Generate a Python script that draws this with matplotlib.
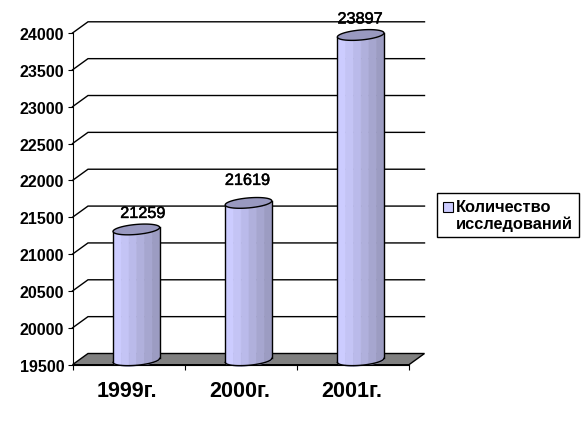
import numpy as np
import matplotlib
matplotlib.use('Agg')
import matplotlib.pyplot as plt
import matplotlib.patheffects as pe
from matplotlib.patches import Polygon, Rectangle

plt.rcParams['font.family'] = ['Liberation Sans', 'DejaVu Sans']

# Data
years = ['1999г.', '2000г.', '2001г.']
counts = [21259, 21619, 23897]
y_ticks = [19500, 20000, 20500, 21000, 21500, 22000, 22500, 23000, 23500, 24000]
legend_label = 'Количество\nисследований'

W, H = 587, 431
fig = plt.figure(figsize=(W / 100, H / 100), dpi=100)
ax = fig.add_axes([72.5 / W, 1 - 365.7 / H, 336.5 / W, 331.7 / H])
ax.set_xlim(0, 3)
ax.set_ylim(19500, 24000)
ax.patch.set_visible(False)

# pixel sizes turned into data units
px_x = 3 / 336.5
px_y = 4500 / 331.7
depth_x = 15.5 * px_x
depth_y = 11.2 * px_y

# floor and back wall lines
floor = Polygon([(0, 19500), (depth_x, 19500 + depth_y), (3 + depth_x, 19500 + depth_y), (3, 19500)],
                closed=True, facecolor='#808080', edgecolor='black', lw=1, clip_on=False, zorder=1)
ax.add_patch(floor)
for t in y_ticks[1:]:
    ax.plot([0, depth_x, 3 + depth_x], [t, t + depth_y, t + depth_y], color='black', lw=1,
            clip_on=False, zorder=1, solid_joinstyle='miter')

# cylinders
half_w = 23.3 * px_x
minor = 5.0 * px_y
tilt = 2.0 * px_y
bands = ['#ccccff', '#c4c4f5', '#babaea', '#b0b0dc', '#a6a6cf', '#9c9cc2']
edges = np.linspace(-1, 1, len(bands) + 1)


def lower_edge(u):
    return -minor * np.sqrt(np.clip(1 - u ** 2, 0, 1)) + tilt * u


for i, v in enumerate(counts):
    cx = i + 0.5 + depth_x / 2
    base = 19500 + depth_y / 2 - 1.2 * px_y
    top = v + depth_y / 2
    for j, c in enumerate(bands):
        u = np.linspace(edges[j], edges[j + 1], 30)
        ax.fill_between(cx + u * half_w, base + lower_edge(u), top + lower_edge(u), facecolor=c, edgecolor=c,
                        lw=0.5, clip_on=False, zorder=2)
    u = np.linspace(-1, 1, 80)
    ax.plot(cx + u * half_w, base + lower_edge(u), color='black', lw=1, clip_on=False, zorder=3)
    ax.plot([cx - half_w, cx - half_w], [base - tilt, top - tilt], color='black', lw=1, clip_on=False, zorder=3)
    ax.plot([cx + half_w, cx + half_w], [base + tilt, top + tilt], color='black', lw=1, clip_on=False, zorder=3)
    t = np.linspace(0, 2 * np.pi, 100)
    ell = np.column_stack([cx + half_w * np.cos(t), top + minor * np.sin(t) + tilt * np.cos(t)])
    ax.add_patch(Polygon(ell, closed=True, facecolor='#9999c0', edgecolor='black', lw=1,
                         clip_on=False, zorder=4))

# value labels
label_offsets = [(6.5, 16), (-1, 22.5), (-0.5, 16)]
for i, v in enumerate(counts):
    ox, oy = label_offsets[i]
    ax.annotate(str(v), (i + 0.5 + depth_x / 2, v + depth_y / 2), xytext=(ox * 0.72, oy * 0.72),
                textcoords='offset points', ha='center', va='center', fontsize=11.7, color='black',
                annotation_clip=False, zorder=5,
                path_effects=[pe.withStroke(linewidth=0.35, foreground='black')])

# axes
for s in ['top', 'right']:
    ax.spines[s].set_visible(False)
ax.set_yticks(y_ticks)
ax.set_yticklabels([str(t) for t in y_ticks], fontsize=11.5, fontweight='bold')
ax.set_xticks([0, 1, 2, 3])
ax.set_xticklabels([])
ax.set_xticks([i + 0.5 - 1.5 * px_x for i in range(3)], minor=True)
ax.set_xticklabels(years, minor=True, fontsize=15.5, fontweight='bold')
ax.tick_params(axis='x', which='minor', length=0, pad=11)
ax.tick_params(axis='x', which='major', length=3.5, width=0.8)
ax.tick_params(axis='y', length=3.5, width=0.8, pad=2.5)

# legend
fig.add_artist(Rectangle((436.5 / W, 1 - 237.5 / H), 142 / W, 44 / H, transform=fig.transFigure,
                         facecolor='white', edgecolor='black', lw=1))
fig.add_artist(Rectangle((443 / W, 1 - 212.5 / H), 9.5 / W, 9.5 / H, transform=fig.transFigure,
                         facecolor=bands[0], edgecolor='black', lw=0.8))
fig.text(456 / W, 1 - 216 / H, legend_label, fontsize=11.8, fontweight='bold', va='center', ha='left',
         linespacing=1.12, transform=fig.transFigure)

fig.savefig('out.png', dpi=100, facecolor='white')
